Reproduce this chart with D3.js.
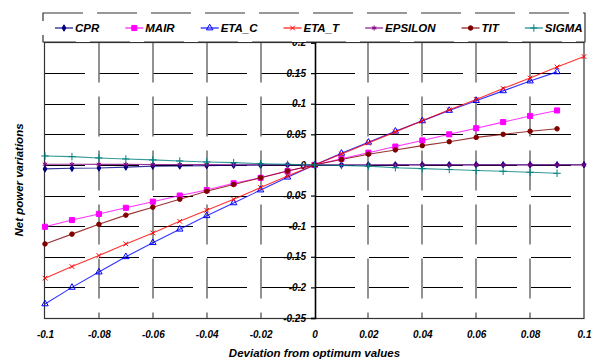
<!DOCTYPE html>
<html lang="en">
<head>
<meta charset="utf-8">
<title>Net power variations</title>
<script src="https://cdn.jsdelivr.net/npm/d3@7"></script>
<style>
  body { margin: 0; background: #fff; }
  text { font-family: "Liberation Sans", Arial, sans-serif; }
</style>
</head>
<body>
<script>
// deviations (x) and series values
var xs = [-0.1, -0.09, -0.08, -0.07, -0.06, -0.05, -0.04, -0.03, -0.02, -0.01, 0,
          0.01, 0.02, 0.03, 0.04, 0.05, 0.06, 0.07, 0.08, 0.09, 0.1];

var cpr     = [-0.0065, -0.0055, -0.005, -0.0035, -0.002, -0.0017, -0.0011, -0.0005, -0.0002, 0, 0,
               0, 0, 0.0002, 0.0002, 0.0003, 0.0003, 0.0003, 0.0004, 0.0004, 0.0004];
var mair    = [-0.101, -0.09, -0.08, -0.07, -0.06, -0.05, -0.041, -0.03, -0.021, -0.01, 0,
               0.01, 0.02, 0.03, 0.04, 0.05, 0.06, 0.07, 0.08, 0.089, null];
var eta_c   = [-0.227, -0.2, -0.175, -0.15, -0.127, -0.105, -0.083, -0.062, -0.041, -0.02, 0,
               0.019, 0.037, 0.055, 0.072, 0.089, 0.105, 0.121, 0.137, 0.152, null];
var eta_t   = [-0.185, -0.166, -0.148, -0.129, -0.111, -0.092, -0.074, -0.056, -0.037, -0.018, 0,
               0.018, 0.036, 0.054, 0.072, 0.09, 0.107, 0.125, 0.142, 0.16, 0.177];
var epsilon = [0.0012, 0.0011, 0.001, 0.0009, 0.0008, 0.0007, 0.0006, 0.0004, 0.0003, 0.0001, 0,
               0, 0, 0, 0, 0, 0, 0, 0, 0, 0];
var tit     = [-0.129, -0.113, -0.097, -0.082, -0.069, -0.056, -0.043, -0.032, -0.021, -0.01, 0,
               0.009, 0.0175, 0.0245, 0.0315, 0.038, 0.045, 0.05, 0.055, 0.059, null];
var sigma   = [0.0147, 0.0136, 0.0114, 0.0098, 0.0082, 0.0065, 0.0049, 0.0038, 0.002, 0.001, 0,
               -0.001, -0.002, -0.0045, -0.006, -0.0075, -0.009, -0.0103, -0.012, -0.0136, null];

var seriesNames = ["CPR", "MAIR", "ETA_C", "ETA_T", "EPSILON", "TIT", "SIGMA"];
var seriesValues = [cpr, mair, eta_c, eta_t, epsilon, tit, sigma];

var xTicks = [-0.1, -0.08, -0.06, -0.04, -0.02, 0, 0.02, 0.04, 0.06, 0.08, 0.1];
var yTicks = [0.2, 0.15, 0.1, 0.05, 0, -0.05, -0.1, -0.15, -0.2, -0.25];

// look of each series: colour, marker type, filled or not
var colors  = ["#000080", "#ff00ff", "#0000ff", "#ff0000", "#800080", "#800000", "#008080"];
var symbols = [d3.symbolDiamond, d3.symbolSquare, d3.symbolTriangle, d3.symbolTimes,
               d3.symbolAsterisk, d3.symbolCircle, d3.symbolPlus];
var symSize = [12, 26, 18, 16, 18, 16, 20];
var filled  = [true, true, false, false, false, true, false];

var w = 598, h = 361;
var plotL = 45, plotR = 584, plotT = 42.5, plotB = 318;

var svg = d3.select("body").append("svg")
    .attr("width", w)
    .attr("height", h);

var x = d3.scaleLinear().domain([-0.1, 0.1]).range([plotL, plotR]);
var y = d3.scaleLinear().domain([-0.25, 0.2]).range([plotB, plotT]);

// dashed grid (horizontal black, vertical grey)
svg.append("g").selectAll("line")
    .data(yTicks.filter(function(d) { return d > -0.25 && d < 0.2; }))
    .enter().append("line")
    .attr("x1", plotL).attr("x2", plotR)
    .attr("y1", function(d) { return Math.round(y(d)) + 0.5; })
    .attr("y2", function(d) { return Math.round(y(d)) + 0.5; })
    .attr("stroke", "#000")
    .attr("stroke-width", 1)
    .attr("stroke-dasharray", "40,14");

svg.append("g").selectAll("line")
    .data(xTicks.filter(function(d) { return d > -0.1 && d < 0.1 && d !== 0; }))
    .enter().append("line")
    .attr("x1", function(d) { return Math.round(x(d)); })
    .attr("x2", function(d) { return Math.round(x(d)); })
    .attr("y1", plotT).attr("y2", plotB)
    .attr("stroke", "#777")
    .attr("stroke-width", 1.6)
    .attr("stroke-dasharray", "40,14");

// plot frame
svg.append("rect")
    .attr("x", plotL - 0.5).attr("y", plotT)
    .attr("width", plotR - plotL + 0.5).attr("height", plotB - plotT + 0.5)
    .attr("fill", "none")
    .attr("stroke", "#333")
    .attr("stroke-width", 1.2);

// y axis through x = 0
var yAxis = svg.append("g")
    .attr("transform", "translate(" + Math.round(x(0)) + ",0)")
    .call(d3.axisLeft(y).tickValues(yTicks).tickSize(4).tickPadding(5)
        .tickFormat(function(d) { return d === 0 ? "0" : String(+d.toFixed(2)); }));
yAxis.select(".domain").attr("stroke", "#000").attr("stroke-width", 1.6);
yAxis.selectAll(".tick line").attr("stroke", "#000").attr("stroke-width", 1.2);
yAxis.selectAll(".tick text")
    .attr("font-size", 10)
    .attr("font-weight", "bold")
    .attr("font-style", "italic")
    .attr("fill", "#000")
    .style("font-family", "'Liberation Sans', Arial, sans-serif");

// x tick labels under the frame
var xAxis = svg.append("g")
    .attr("transform", "translate(0," + plotB + ")")
    .call(d3.axisBottom(x).tickValues(xTicks).tickSize(0).tickPadding(13)
        .tickFormat(function(d) { return d === 0 ? "0" : String(+d.toFixed(2)); }));
xAxis.select(".domain").remove();
xAxis.selectAll(".tick text")
    .attr("font-size", 10)
    .attr("font-weight", "bold")
    .attr("font-style", "italic")
    .attr("fill", "#000")
    .style("font-family", "'Liberation Sans', Arial, sans-serif");

// series lines and markers
var line = d3.line()
    .x(function(d) { return x(d[0]); })
    .y(function(d) { return y(d[1]); });

seriesValues.forEach(function(vals, i) {
    var pts = xs.map(function(v, j) { return [v, vals[j]]; })
        .filter(function(d) { return d[1] !== null; });
    var g = svg.append("g");
    g.append("path")
        .datum(pts)
        .attr("d", line)
        .attr("fill", "none")
        .attr("stroke", colors[i])
        .attr("stroke-opacity", 0.8)
        .attr("stroke-width", 1.1);
    g.selectAll("path.mark")
        .data(pts)
        .enter().append("path")
        .attr("class", "mark")
        .attr("transform", function(d) { return "translate(" + x(d[0]) + "," + y(d[1]) + ")"; })
        .attr("d", d3.symbol().type(symbols[i]).size(symSize[i]))
        .attr("fill", filled[i] ? colors[i] : "none")
        .attr("stroke", colors[i])
        .attr("stroke-width", 1);
});

// legend
svg.append("rect")
    .attr("x", 43).attr("y", 13)
    .attr("width", 542).attr("height", 29)
    .attr("fill", "#fff")
    .attr("stroke", "#333")
    .attr("stroke-width", 1.2)
    .attr("stroke-dasharray", "40,14");

var lx = 55;
seriesNames.forEach(function(name, i) {
    var g = svg.append("g").attr("transform", "translate(" + lx + ",28)");
    g.append("line")
        .attr("x1", 0).attr("x2", 18)
        .attr("stroke", colors[i]).attr("stroke-width", 1.1);
    g.append("path")
        .attr("transform", "translate(9,0)")
        .attr("d", d3.symbol().type(symbols[i]).size(symSize[i]))
        .attr("fill", filled[i] ? colors[i] : "none")
        .attr("stroke", colors[i]);
    var t = g.append("text")
        .attr("x", 20).attr("y", 4)
        .attr("font-size", 11.5)
        .attr("font-weight", "bold")
        .attr("font-style", "italic")
        .text(name);
    lx += 20 + t.node().getComputedTextLength() + 26;
});

// axis titles
svg.append("text")
    .attr("x", x(0)).attr("y", 357)
    .attr("text-anchor", "middle")
    .attr("font-size", 11.5)
    .attr("font-weight", "bold")
    .attr("font-style", "italic")
    .text("Deviation from optimum values");

svg.append("text")
    .attr("transform", "translate(23,180) rotate(-90)")
    .attr("text-anchor", "middle")
    .attr("font-size", 11.5)
    .attr("font-weight", "bold")
    .attr("font-style", "italic")
    .text("Net power variations");
</script>
</body>
</html>
